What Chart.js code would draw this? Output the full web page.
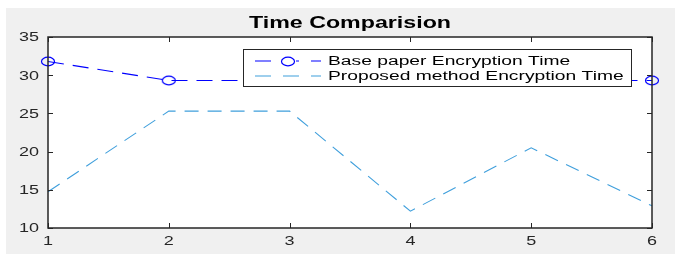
<!DOCTYPE html>
<html>
<head>
<meta charset="utf-8">
<script src="https://cdn.jsdelivr.net/npm/chart.js@4/dist/chart.umd.min.js"></script>
<style>
  html, body { margin: 0; padding: 0; background: #fff; }
  #wrap { width: 675px; height: 254px; position: relative; }
</style>
</head>
<body>
<div id="wrap"><canvas id="chart" width="675" height="254"></canvas></div>
<script>
const xValues = [1, 2, 3, 4, 5, 6];
const baseTimes = [31.8, 29.3, 29.3, 29.3, 29.3, 29.3];
const proposedTimes = [14.75, 25.3, 25.3, 12.2, 20.5, 12.9];
const yTicks = [10, 15, 20, 25, 30, 35];

const titleText = "Time Comparision";
const baseLabel = "Base paper Encryption Time";
const proposedLabel = "Proposed method Encryption Time";

const FONT = "'Liberation Sans', Arial, sans-serif";
const AXIS_COLOR = "#262626";
const STRETCH = 1.5; // the source picture is widened horizontally

const toPoints = (ys) => xValues.map((x, i) => ({ x, y: ys[i] }));

// open circle, widened like the rest of the picture
function ellipseMarker(color) {
  const c = document.createElement("canvas");
  c.width = 16; c.height = 11;
  const g = c.getContext("2d");
  g.strokeStyle = color;
  g.lineWidth = 1.2;
  g.beginPath();
  g.ellipse(8, 5.5, 6.5, 4.3, 0, 0, Math.PI * 2);
  g.stroke();
  return c;
}
const baseMarker = ellipseMarker("#0000ff");

function wideText(ctx, text, x, y, align, font, sx = STRETCH) {
  ctx.save();
  ctx.font = font;
  ctx.textBaseline = "middle";
  ctx.textAlign = "left";
  const w = ctx.measureText(text).width * sx;
  let left = x;
  if (align === "center") left = x - w / 2;
  if (align === "right") left = x - w;
  ctx.translate(left, y);
  ctx.scale(sx, 1);
  ctx.fillText(text, 0, 0);
  ctx.restore();
}

// gray figure background, white axes area, title, inward ticks, box, legend
const matlabLook = {
  id: "matlabLook",
  beforeDraw(chart) {
    const { ctx, chartArea: a } = chart;
    ctx.save();
    ctx.fillStyle = "#fff";
    ctx.fillRect(0, 0, chart.width, chart.height);
    ctx.fillStyle = "#f0f0f0";
    ctx.fillRect(6, 8, chart.width - 6, chart.height - 8);
    ctx.fillStyle = "#fff";
    ctx.fillRect(a.left, a.top, a.right - a.left, a.bottom - a.top);
    ctx.restore();
  },
  afterDraw(chart) {
    const { ctx, chartArea: a, scales } = chart;
    ctx.save();
    ctx.strokeStyle = AXIS_COLOR;
    ctx.lineWidth = 1;
    ctx.beginPath();
    yTicks.forEach((v) => {
      const y = Math.round(scales.y.getPixelForValue(v)) + 0.5;
      ctx.moveTo(a.left, y); ctx.lineTo(a.left + 5, y);
      ctx.moveTo(a.right, y); ctx.lineTo(a.right - 5, y);
    });
    xValues.forEach((v) => {
      const x = Math.round(scales.x.getPixelForValue(v)) + 0.5;
      ctx.moveTo(x, a.bottom); ctx.lineTo(x, a.bottom - 5);
      ctx.moveTo(x, a.top); ctx.lineTo(x, a.top + 5);
    });
    ctx.stroke();
    ctx.lineWidth = 1.5;
    ctx.strokeRect(a.left, a.top, a.right - a.left, a.bottom - a.top);

    // tick labels
    ctx.fillStyle = AXIS_COLOR;
    yTicks.forEach((v) => {
      wideText(ctx, String(v), 39, scales.y.getPixelForValue(v) + 1, "right", `12px ${FONT}`);
    });
    xValues.forEach((v) => {
      wideText(ctx, String(v), scales.x.getPixelForValue(v), 242, "center", `12px ${FONT}`);
    });

    // title
    ctx.fillStyle = "#000";
    wideText(ctx, titleText, 350, 24, "center", `bold 16px ${FONT}`, 1.45);

    // legend
    const lx = 243, ly = 49, lw = 388, lh = 37;
    ctx.fillStyle = "#fff";
    ctx.fillRect(lx, ly, lw, lh);
    ctx.strokeStyle = "#262626";
    ctx.lineWidth = 1;
    ctx.strokeRect(lx + 0.5, ly + 0.5, lw, lh);
    const rows = [
      { ds: chart.data.datasets[0], y: ly + 12, text: baseLabel },
      { ds: chart.data.datasets[1], y: ly + 27, text: proposedLabel },
    ];
    rows.forEach((r) => {
      ctx.strokeStyle = r.ds.borderColor;
      ctx.lineWidth = 1.1;
      ctx.setLineDash([16, 12]);
      ctx.beginPath();
      ctx.moveTo(255, r.y); ctx.lineTo(321, r.y);
      ctx.stroke();
      ctx.setLineDash([]);
      if (r.ds.pointRadius > 0) {
        ctx.fillStyle = "#fff";
        ctx.fillRect(280, r.y - 5, 16, 11);
        ctx.drawImage(baseMarker, 280, Math.round(r.y - 5.5));
      }
      ctx.fillStyle = "#000";
      wideText(ctx, r.text, 328, r.y + 1, "left", `12.5px ${FONT}`, 1.54);
    });
    ctx.restore();
  },
};

new Chart(document.getElementById("chart"), {
  type: "line",
  data: {
    datasets: [
      {
        label: baseLabel,
        data: toPoints(baseTimes),
        borderColor: "#0000ff",
        borderWidth: 1.1,
        borderDash: [16, 9],
        pointRadius: 6,
        pointStyle: baseMarker,
        tension: 0,
        fill: false,
      },
      {
        label: proposedLabel,
        data: toPoints(proposedTimes),
        borderColor: "#3f9fdc",
        borderWidth: 1.1,
        borderDash: [14, 9],
        pointRadius: 0,
        tension: 0,
        fill: false,
      },
    ],
  },
  options: {
    responsive: false,
    animation: false,
    devicePixelRatio: 1,
    clip: false,
    layout: { padding: { top: 37, right: 23, left: 0, bottom: 0 } },
    plugins: {
      legend: { display: false },
      title: { display: false },
      tooltip: { enabled: false },
    },
    scales: {
      x: {
        type: "linear",
        min: 1,
        max: 6,
        afterFit: (s) => { s.height = 26; },
        grid: { display: false, drawTicks: false },
        border: { display: false },
        afterBuildTicks: (s) => { s.ticks = xValues.map((v) => ({ value: v })); },
        ticks: { display: false },
      },
      y: {
        min: 10,
        max: 35,
        afterFit: (s) => { s.width = 48; },
        grid: { display: false, drawTicks: false },
        border: { display: false },
        afterBuildTicks: (s) => { s.ticks = yTicks.map((v) => ({ value: v })); },
        ticks: { display: false },
      },
    },
  },
  plugins: [matlabLook],
});
</script>
</body>
</html>
